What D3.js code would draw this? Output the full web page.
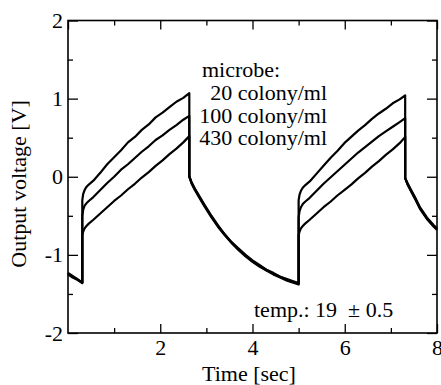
<!DOCTYPE html>
<html>
<head>
<meta charset="utf-8">
<script src="https://cdn.jsdelivr.net/npm/d3@7"></script>
<style>
  body { margin: 0; background: #fff; }
  text { font-family: "Liberation Serif", "Times New Roman", serif; }
</style>
</head>
<body>
<div id="chart"></div>
<script>
// size of svg and plot box
const width = 441, height = 385;
const margin = {top: 20.5, right: 4, bottom: 52, left: 68};
const innerWidth = width - margin.left - margin.right;
const innerHeight = height - margin.top - margin.bottom;

// data (time in sec, output voltage in V)
const seriesNames = ["20 colony/ml", "100 colony/ml", "430 colony/ml"];
const timeSec = [
  0.00, 0.10, 0.20, 0.31,
  0.31,
  0.33, 0.36, 0.40, 0.45, 0.55, 0.70, 0.85, 1.00, 1.15, 1.30, 1.45, 1.60, 1.75, 1.90, 2.05, 2.20, 2.35, 2.50, 2.63,
  2.63,
  2.68, 2.75, 2.85, 2.95, 3.10, 3.25, 3.40, 3.55, 3.70, 3.85, 4.00, 4.15, 4.30, 4.45, 4.60, 4.75, 4.90, 5.00,
  5.00,
  5.02, 5.05, 5.09, 5.14, 5.24, 5.39, 5.54, 5.69, 5.84, 5.99, 6.14, 6.29, 6.44, 6.59, 6.74, 6.89, 7.04, 7.19, 7.31,
  7.31,
  7.36, 7.43, 7.53, 7.63, 7.78, 7.93, 8.00
];
const v20 = [
  -1.24, -1.28, -1.31, -1.36,
  -0.30,
  -0.22, -0.17, -0.13, -0.10, -0.05, 0.05, 0.16, 0.25, 0.34, 0.44, 0.51, 0.60, 0.67, 0.76, 0.82, 0.89, 0.96, 1.01, 1.07,
  0.00,
  -0.08, -0.16, -0.26, -0.36, -0.50, -0.63, -0.74, -0.84, -0.93, -1.01, -1.08, -1.14, -1.19, -1.24, -1.28, -1.32, -1.35, -1.37,
  -0.30,
  -0.23, -0.18, -0.14, -0.11, -0.06, 0.04, 0.14, 0.24, 0.33, 0.43, 0.51, 0.59, 0.66, 0.74, 0.81, 0.87, 0.94, 0.99, 1.04,
  -0.02,
  -0.09, -0.17, -0.28, -0.40, -0.53, -0.63, -0.67
];
const v100 = [
  -1.25, -1.29, -1.32, -1.36,
  -0.50,
  -0.42, -0.37, -0.34, -0.31, -0.26, -0.17, -0.08, 0.00, 0.09, 0.16, 0.24, 0.32, 0.39, 0.47, 0.53, 0.60, 0.66, 0.73, 0.78,
  0.00,
  -0.07, -0.15, -0.25, -0.35, -0.49, -0.62, -0.74, -0.84, -0.92, -1.00, -1.07, -1.13, -1.19, -1.23, -1.28, -1.31, -1.34, -1.36,
  -0.52,
  -0.44, -0.39, -0.35, -0.32, -0.27, -0.18, -0.09, -0.01, 0.07, 0.15, 0.23, 0.31, 0.38, 0.45, 0.52, 0.58, 0.64, 0.70, 0.75,
  -0.02,
  -0.08, -0.16, -0.27, -0.39, -0.52, -0.62, -0.66
];
const v430 = [
  -1.23, -1.27, -1.31, -1.35,
  -0.75,
  -0.70, -0.66, -0.63, -0.60, -0.55, -0.47, -0.39, -0.31, -0.24, -0.16, -0.09, -0.01, 0.06, 0.14, 0.21, 0.29, 0.36, 0.44, 0.52,
  0.01,
  -0.09, -0.17, -0.27, -0.37, -0.51, -0.64, -0.75, -0.85, -0.94, -1.02, -1.09, -1.15, -1.20, -1.25, -1.29, -1.33, -1.36, -1.38,
  -0.75,
  -0.70, -0.66, -0.63, -0.60, -0.55, -0.47, -0.39, -0.32, -0.24, -0.17, -0.10, -0.02, 0.05, 0.13, 0.20, 0.28, 0.35, 0.43, 0.51,
  -0.01,
  -0.10, -0.18, -0.29, -0.41, -0.54, -0.64, -0.68
];
const xMajor = [0, 2, 4, 6, 8], xMinor = [1, 3, 5, 7];
const yMajor = [-2, -1, 0, 1, 2], yMinor = [-1.5, -0.5, 0.5, 1.5];
const legendTitle = "microbe:";
const tempNote = "temp.: 19  \u00B1 0.5";

const svg = d3.select("#chart").append("svg")
  .attr("width", width)
  .attr("height", height);
const g = svg.append("g")
  .attr("transform", `translate(${margin.left},${margin.top})`);

const x = d3.scaleLinear().domain([0, 8]).range([0, innerWidth]);
const y = d3.scaleLinear().domain([-2, 2]).range([innerHeight, 0]);
// plain labels with a hyphen minus, like the original
const plain = d => String(d);

// axes: major ticks with labels on bottom/left, ticks inward on all four sides
function styleAxis(sel, labelled) {
  sel.select(".domain").remove();
  sel.attr("font-family", null);
  sel.selectAll("line").attr("stroke", "#000").attr("stroke-width", 1.3);
  if (labelled) sel.selectAll("text").attr("font-size", "22px").attr("fill", "#000");
  else sel.selectAll("text").remove();
}
function addAxis(axis, tr, labelled) {
  g.append("g").attr("transform", tr).call(axis).call(styleAxis, labelled);
}
addAxis(d3.axisBottom(x).tickValues(xMajor.filter(d => d > 0)).tickSize(-9).tickSizeOuter(0).tickPadding(6.5).tickFormat(plain), `translate(0,${innerHeight})`, true);
addAxis(d3.axisBottom(x).tickValues(xMinor).tickSize(-5).tickSizeOuter(0), `translate(0,${innerHeight})`, false);
addAxis(d3.axisTop(x).tickValues(xMajor).tickSize(-9).tickSizeOuter(0), "translate(0,0)", false);
addAxis(d3.axisTop(x).tickValues(xMinor).tickSize(-5).tickSizeOuter(0), "translate(0,0)", false);
addAxis(d3.axisLeft(y).tickValues(yMajor).tickSize(-10).tickSizeOuter(0).tickPadding(5).tickFormat(plain), "translate(0,0)", true);
addAxis(d3.axisLeft(y).tickValues(yMinor).tickSize(-5).tickSizeOuter(0), "translate(0,0)", false);
addAxis(d3.axisRight(y).tickValues(yMajor).tickSize(-10).tickSizeOuter(0), `translate(${innerWidth},0)`, false);
addAxis(d3.axisRight(y).tickValues(yMinor).tickSize(-5).tickSizeOuter(0), `translate(${innerWidth},0)`, false);

// frame
g.append("rect")
  .attr("width", innerWidth)
  .attr("height", innerHeight)
  .attr("fill", "none")
  .attr("stroke", "#000")
  .attr("stroke-width", 1.6);

// traces
const series = [v20, v100, v430];
const line = d3.line()
  .x((d, i) => x(timeSec[i]))
  .y(d => y(d));
g.selectAll(".trace")
  .data(series)
  .enter().append("path")
    .attr("class", "trace")
    .attr("d", line)
    .attr("fill", "none")
    .attr("stroke", "#000")
    .attr("stroke-width", 2.2)
    .attr("stroke-linejoin", "round");

// legend text
g.append("text")
  .attr("x", 134).attr("y", 56)
  .attr("font-size", "22px")
  .text(legendTitle);
g.selectAll(".leg")
  .data(seriesNames)
  .enter().append("text")
    .attr("class", "leg")
    .attr("x", 259)
    .attr("y", (d, i) => 79.5 + i * 22.5)
    .attr("text-anchor", "end")
    .attr("font-size", "22px")
    .text(d => d);

g.append("text")
  .attr("x", 186).attr("y", 296)
  .attr("font-size", "22px")
  .style("white-space", "pre")
  .text(tempNote);

// axis titles
svg.append("text")
  .attr("x", 249).attr("y", 381)
  .attr("text-anchor", "middle")
  .attr("font-size", "22px")
  .text("Time [sec]");
svg.append("text")
  .attr("transform", "translate(26,184) rotate(-90)")
  .attr("text-anchor", "middle")
  .attr("font-size", "22px")
  .text("Output voltage [V]");
</script>
</body>
</html>
